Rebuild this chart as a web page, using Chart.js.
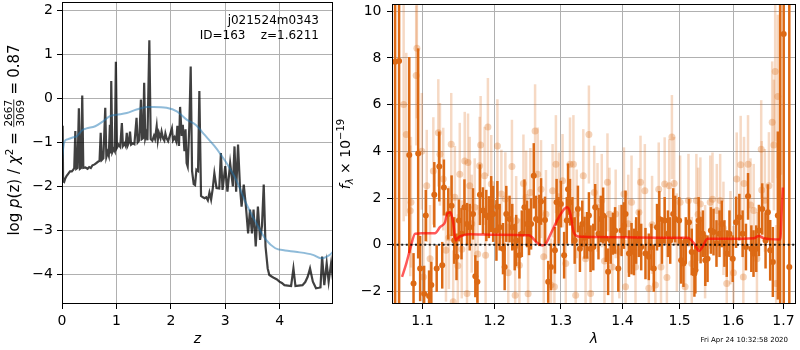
<!DOCTYPE html>
<html>
<head>
<meta charset="utf-8">
<script src="https://cdn.jsdelivr.net/npm/chart.js"></script>
<style>
  html, body { margin: 0; padding: 0; background: #fff; }
  #wrap { position: relative; width: 800px; height: 350px; overflow: hidden; }
  canvas { position: absolute; top: 0; }
  #pz { left: 0; }
  #spec { left: 334px; }
</style>
</head>
<body>
<div id="wrap">
  <canvas id="pz" width="340" height="350"></canvas>
  <canvas id="spec" width="466" height="350"></canvas>
</div>
<script>
// left panel: log p(z)
const zGrid = [0.000,0.012,0.020,0.040,0.060,0.086,0.110,0.147,0.180,0.208,
  0.225,0.245,0.262,0.285,0.310,0.330,0.350,0.372,0.392,0.43,
  0.47,0.50,0.53,0.56,0.60,0.63,0.66,0.69,0.711,0.73,
  0.76,0.795,0.815,0.84,0.86,0.88,0.895,0.905,0.925,0.95,
  0.97,0.99,1.01,1.04,1.07,1.10,1.12,1.15,1.17,1.19,
  1.21,1.23,1.25,1.27,1.30,1.33,1.37,1.39,1.42,1.45,
  1.47,1.49,1.51,1.53,1.55,1.57,1.605,1.63,1.66,1.69,
  1.71,1.74,1.76,1.78,1.81,1.83,1.86,1.88,1.90,1.92,
  1.95,1.98,2.02,2.04,2.07,2.10,2.12,2.15,2.17,2.20,
  2.22,2.25,2.27,2.29,2.31,2.34,2.365,2.39,2.42,2.445,
  2.47,2.50,2.524,2.555,2.59,2.62,2.65,2.68,2.71,2.74,
  2.77,2.80,2.84,2.89,2.92,2.95,3.00,3.04,3.09,3.14,
  3.17,3.20,3.235,3.27,3.30,3.34,3.38,3.42,3.455,3.49,
  3.52,3.56,3.60,3.64,3.675,3.707,3.74,3.78,3.81,3.86,
  3.90,3.95,3.995,4.04,4.087,4.15,4.21,4.253,4.29,4.35,
  4.42,4.47,4.515,4.558,4.61,4.668,4.72,4.75,4.78,4.82,
  4.864,4.90,4.945,4.98]
const logPz = [-0.62,-0.66,-1.88,-1.90,-1.82,-1.76,-1.72,-1.66,-1.66,-1.62,
  -1.58,-0.74,-1.60,-1.58,-0.22,-1.60,-1.58,0.07,-1.58,-1.57,
  -1.60,-1.56,-1.58,-1.52,-1.50,-1.47,-1.44,-1.42,-0.78,-1.40,
  -1.36,-0.21,-1.33,-1.22,-1.30,-0.60,-1.25,0.40,-1.22,-1.15,
  -1.20,0.84,-1.12,-1.05,-1.10,-0.56,-1.08,-1.02,-1.08,-0.78,
  -1.06,-1.00,-0.75,-1.05,-1.02,-1.04,-0.44,-1.00,-0.95,-0.02,
  -0.92,-0.90,0.36,-0.90,-0.80,-0.95,1.33,-0.92,-0.96,-0.85,
  -0.92,-0.63,-0.95,-0.78,-0.90,-0.75,-0.92,-0.96,-0.80,-0.90,
  -0.97,-0.85,-0.68,-0.95,-0.88,-0.98,-0.62,-1.08,-0.19,-0.85,
  -0.60,-1.20,-0.70,-1.47,-1.55,-0.62,0.73,-1.65,-1.95,-1.97,
  -1.62,-1.65,0.17,-2.22,-2.25,-2.27,-2.25,-2.32,-2.14,-2.30,
  -2.05,-1.70,-2.04,-2.05,-1.24,-2.08,-1.54,-2.12,-1.47,-2.00,
  -1.09,-2.12,-1.05,-2.00,-2.46,-1.96,-2.46,-3.07,-2.53,-3.07,
  -2.53,-3.37,-2.46,-3.22,-2.90,-1.96,-3.37,-3.87,-4.02,-4.06,
  -4.09,-4.12,-4.17,-4.20,-4.25,-4.26,-4.27,-3.87,-4.27,-4.26,
  -4.25,-4.18,-4.06,-3.87,-4.17,-4.32,-4.31,-4.30,-3.60,-4.25,
  -3.75,-4.17,-3.75,-4.13]
const zSmooth = [0.00,0.02,0.05,0.10,0.21,0.27,0.37,0.45,0.61,0.74,0.88,1.00,1.19,1.37,1.56,1.68,
  1.92,2.11,2.29,2.46,2.60,2.80,2.92,3.05,3.20,3.38,3.57,3.75,3.92,4.10,4.29,4.61,4.76,4.92,4.98]
const logPzSmooth = [-1.40,-1.15,-0.97,-0.93,-0.88,-0.86,-0.72,-0.68,-0.63,-0.53,-0.40,-0.37,-0.33,-0.25,-0.19,-0.19,
  -0.21,-0.29,-0.48,-0.60,-0.80,-1.08,-1.28,-1.52,-1.85,-2.38,-2.84,-3.22,-3.41,-3.46,-3.49,-3.56,-3.64,-3.56,-3.49]
const zTicks = [0, 1, 2, 3, 4]
const pzTicks = [-4, -3, -2, -1, 0, 1, 2]

// right panel: spectrum
const darkLam = [1.0644,1.0695,1.0827,1.0883,1.0944,1.0970,1.1023,1.1045,1.1089,1.1119,
  1.1159,1.1191,1.1226,1.1266,1.1289,1.1348,1.1394,1.1430,1.1462,1.1494,
  1.1531,1.1572,1.1608,1.1646,1.1692,1.1725,1.1754,1.1790,1.1833,1.1881,
  1.1918,1.1951,
  1.1980,1.2027,1.2041,1.2074,1.2123,1.2147,1.2171,1.2219,1.2259,1.2295,
  1.2317,1.2365,1.2401,1.2440,1.2480,1.2510,1.2540,1.2581,1.2616,1.2666,
  1.2692,1.2752,1.2802,1.2844,1.2906,1.2932,1.2963,1.2999,1.3050,1.3092,
  1.3112,1.3143,1.3181,1.3217,1.3269,1.3301,1.3339,1.3376,1.3419,1.3446,
  1.3473,1.3517,
  1.3548,1.3602,1.3640,1.3679,1.3722,1.3761,1.3804,1.3841,1.3877,1.3931,
  1.3986,1.4026,1.4053,1.4111,1.4155,1.4196,1.4235,1.4281,1.4321,1.4395,
  1.4453,1.4498,1.4540,1.4597,1.4637,1.4684,1.4732,1.4790,1.4831,1.4884,
  1.4920,1.4991,1.5027,1.5070,1.5112,1.5171,1.5221,1.5270,
  1.5288,1.5317,1.5348,1.5385,1.5427,1.5472,1.5514,1.5576,1.5626,1.5682,
  1.5739,1.5782,1.5833,1.5877,1.5929,1.5992,1.6057,1.6120,1.6184,1.6249,
  1.6290,1.6355,1.6398,1.6452,1.6505,1.6571,1.6638,1.6684,1.6731,1.6785,
  1.6886,1.6933,1.7006,1.7121]
const darkFlux = [7.84,7.87,3.84,-1.66,3.91,-1.02,-2.10,1.25,-2.20,-1.73,
  2.14,-1.02,3.35,-0.88,2.45,1.32,1.67,0.18,-0.52,1.04,
  0.47,1.60,0.89,0.75,1.32,-1.35,-1.59,2.14,1.46,1.25,
  1.18,1.74,
  1.32,0.61,1.63,0.75,-0.17,-0.95,1.32,1.10,0.75,-0.10,
  0.18,-0.45,0.47,1.60,0.89,0.55,0.89,2.95,1.10,1.04,
  1.85,1.06,-1.59,-0.95,-0.24,1.82,1.04,1.74,-0.45,1.04,
  2.38,1.82,1.04,0.18,1.53,-0.17,0.89,0.30,0.40,1.25,
  -0.17,-0.10,
  1.60,0.47,1.10,1.25,0.26,-1.16,0.18,0.47,0.61,-1.02,
  0.61,0.82,1.32,-0.38,-0.17,-0.31,0.18,0.47,-0.10,-0.38,
  -0.52,-0.10,-1.02,0.75,1.10,0.18,1.04,0.47,0.18,1.32,
  1.10,1.04,-0.67,-0.81,0.18,0.96,-0.31,-1.23,
  -1.09,-0.10,1.04,0.20,0.47,-0.67,-0.60,0.61,0.54,0.05,
  0.47,0.89,0.05,-0.38,0.47,-0.60,0.96,1.18,0.47,-0.10,
  2.07,-0.17,-0.38,-0.17,0.61,1.53,0.18,1.39,-0.24,-0.74,
  1.25,-5.0,9.02,-0.95]
const darkErr = [30,30,4.2,1.3,4.5,1.4,1.2,1.1,1.1,1.0,
  1.4,1.0,1.5,1.0,1.2,1.1,1.3,1.0,1.0,0.9,
  1.1,1.2,0.9,1.0,1.1,0.9,0.9,1.3,1.0,1.1,
  0.9,1.2,
  1.2,1.3,1.1,1.0,1.1,1.0,1.2,1.0,1.0,1.0,
  1.1,1.0,1.0,1.2,1.0,1.0,1.1,1.4,1.0,1.1,
  1.0,1.0,0.9,1.0,1.0,1.0,1.0,1.0,1.0,1.0,
  1.1,1.0,1.0,1.0,1.0,1.0,1.0,0.9,1.0,1.0,
  1.0,1.0,
  1.0,1.1,1.0,1.2,1.0,1.0,1.0,0.9,1.0,1.0,
  1.1,1.0,1.0,1.0,1.1,1.0,1.0,1.0,1.0,1.1,
  1.0,1.0,1.0,1.0,1.2,1.0,1.0,1.0,1.0,1.1,
  1.0,1.0,1.0,1.0,1.0,1.0,1.0,1.0,
  1.0,1.0,1.0,1.0,1.0,1.1,1.0,1.0,1.0,1.0,
  1.0,1.0,1.0,1.0,1.0,1.0,1.1,1.0,1.0,1.0,
  1.0,1.0,1.0,1.0,1.1,1.1,1.2,1.2,1.3,1.5,
  3.6,20,25,25]

const lightLam = [1.0754,1.0788,1.0840,1.0849,1.0918,1.0927,1.0992,1.1013,1.1058,1.1102,
  1.1146,1.1213,1.1235,1.1280,1.1317,1.1357,1.1389,1.1416,1.1439,1.1480,
  1.1507,1.1535,1.1576,1.1608,1.1622,1.1646,1.1674,1.1716,1.1758,1.1786,
  1.1800,1.1857,1.1871,1.1904,1.1952,
  1.2041,1.2099,1.2157,1.2200,1.2254,1.2302,1.2317,1.2365,1.2425,1.2465,
  1.2495,1.2529,1.2601,1.2641,1.2692,1.2733,1.2767,1.2844,1.2870,1.2898,
  1.2921,1.2968,1.3025,1.3076,1.3143,1.3197,1.3233,1.3249,1.3355,1.3392,
  1.3446,1.3473,
  1.3532,1.3586,1.3656,1.3701,1.3750,1.3783,1.3832,1.3887,1.3948,1.4026,
  1.4053,1.4099,1.4155,1.4223,1.4281,1.4309,1.4384,1.4453,1.4510,1.4568,
  1.4627,1.4667,1.4732,1.4772,1.4813,1.4861,1.4902,1.4950,1.5009,1.5100,
  1.5161,1.5221,
  1.5306,1.5339,1.5380,1.5468,1.5564,1.5607,1.5688,1.5752,1.5814,1.5877,
  1.5948,1.6006,1.6069,1.6146,1.6198,1.6211,1.6290,1.6339,1.6402,1.6466,
  1.6551,1.6561,1.6624,1.6705,1.6772,1.6806,1.6832,1.6852,1.6886,1.6950]
const lightFlux = [6.0,4.72,1.45,1.82,7.25,8.41,4.00,-1.38,2.52,-0.60,
  3.16,4.79,3.87,2.81,-0.24,0.30,4.30,-2.44,2.03,-0.90,
  3.02,-0.20,3.59,-2.09,3.52,2.52,0.90,1.60,-0.40,3.38,
  4.27,2.95,-0.45,5.04,2.60,
  4.23,2.17,1.96,-1.20,3.35,-2.16,1.04,-0.88,2.62,2.03,
  -2.10,2.24,4.87,3.02,2.38,-0.52,1.30,-1.73,2.31,-1.80,
  3.45,2.05,2.74,-0.80,3.45,3.45,-2.16,1.32,2.95,-0.60,
  4.72,-2.09,
  2.24,1.60,1.89,-0.70,2.67,1.30,-0.95,1.32,-0.30,2.17,
  -1.80,0.90,1.82,-0.95,1.39,2.67,2.31,-1.87,0.85,-1.73,
  2.38,-0.95,2.60,-1.40,2.52,4.61,2.62,0.10,1.82,-1.80,
  1.89,-0.81,
  1.89,1.30,1.74,-0.30,1.82,1.95,1.46,1.89,0.70,-1.66,
  0.30,-1.20,2.81,3.42,-1.38,2.62,3.45,1.70,1.46,-0.60,
  4.09,2.34,1.90,2.52,5.25,4.27,7.42,-1.66,6.35,11.0]
const lightErr = [5.0,3.5,2.8,2.8,3.0,3.0,2.5,2.5,2.4,2.3,
  2.3,2.3,2.2,2.2,2.2,2.2,2.2,2.2,2.2,2.2,
  2.2,2.1,2.1,2.1,2.1,2.1,2.1,2.1,2.1,2.1,
  2.1,2.1,2.1,2.1,2.1,
  2.0,1.9,2.0,2.1,2.0,2.0,1.9,2.0,2.1,2.0,
  2.0,1.9,2.0,2.0,2.1,2.0,1.9,2.0,2.0,2.0,
  2.1,1.9,2.0,2.0,2.0,2.1,2.0,1.9,2.0,2.0,
  2.1,2.0,
  2.0,1.9,2.0,2.0,2.1,2.0,2.0,1.9,2.0,2.0,
  2.0,2.1,2.0,2.0,1.9,2.0,2.0,2.0,2.1,2.0,
  2.0,1.9,2.0,2.0,2.0,1.8,2.0,2.1,2.0,2.0,
  2.0,2.0,
  2.0,2.0,2.0,2.0,2.0,2.0,2.0,2.0,2.0,2.0,
  2.0,2.0,2.0,2.1,2.0,2.0,2.1,2.0,2.0,2.0,
  2.1,2.1,2.2,2.3,2.6,2.8,3.0,2.5,3.5,8.0]

const modelLam = [1.0733,1.0788,1.0840,1.0904,1.0992,1.1168,1.1235,1.1302,1.1333,1.1380,
  1.1415,1.1452,1.1483,1.1552,1.1646,1.2022,1.2510,1.2561,1.2636,1.2712,
  1.2764,1.2865,1.2968,1.3096,1.3150,1.3201,1.3280,1.3548,1.4671,1.5148,
  1.5266,1.5358,1.5418,1.5514,1.5890,1.6404,1.6502,1.6601,1.6934,1.6968,1.6988]
const modelFlux = [-1.38,-0.81,-0.17,0.47,0.49,0.49,0.75,0.95,1.32,1.39,
  0.96,0.18,0.30,0.40,0.45,0.43,0.40,0.30,0.07,-0.03,
  0.04,0.61,1.18,1.60,1.32,0.54,0.35,0.33,0.30,0.30,
  0.05,-0.27,-0.10,0.25,0.25,0.28,0.37,0.28,0.22,1.60,2.45]
const lamRange = [1.0604, 1.726]
const lamTicks = [1.1, 1.2, 1.3, 1.4, 1.5, 1.6, 1.7]
const fluxTicks = [-2, 0, 2, 4, 6, 8, 10]

const FONT = "'DejaVu Sans', sans-serif"
const GRID = '#b0b0b0'
const ORANGE = 'rgb(220,105,20)'

Chart.defaults.font.family = FONT
Chart.defaults.color = 'black'

const minus = v => v < 0 ? '\u2212' + Math.abs(v) : String(v)
const pts = (xs, ys) => xs.map((x, i) => ({ x: x, y: ys[i] }))

// no extra room for labels hanging over the plot edges
const noPad = s => { s.paddingTop = 0; s.paddingBottom = 0; s.paddingLeft = 0; s.paddingRight = 0 }

function axis(opts) {
  return Object.assign({
    grid: { color: GRID, lineWidth: 1, tickLength: 5, tickColor: 'black', tickWidth: 1 },
    border: { display: false },
    ticks: { color: 'black', font: { size: 14 }, autoSkip: false, maxRotation: 0 }
  }, opts)
}

// box around the plot area, matplotlib style
const frame = {
  id: 'frame',
  afterDatasetsDraw(chart) {
    const a = chart.chartArea, ctx = chart.ctx
    ctx.save()
    ctx.strokeStyle = 'black'
    ctx.lineWidth = 1
    ctx.strokeRect(Math.round(a.left) + 0.5, Math.round(a.top) + 0.5,
      Math.round(a.right - a.left) - 1, Math.round(a.bottom - a.top) - 1)
    ctx.restore()
  }
}

// vertical error bars drawn right before their own dataset
const errorBars = {
  id: 'errorBars',
  beforeDatasetDraw(chart, args) {
    const ds = chart.data.datasets[args.index]
    if (!ds.errs) return
    const xs = chart.scales.x, ys = chart.scales.y, a = chart.chartArea, ctx = chart.ctx
    ctx.save()
    ctx.beginPath()
    ctx.rect(a.left, a.top, a.right - a.left, a.bottom - a.top)
    ctx.clip()
    ctx.strokeStyle = ds.errColor
    ctx.lineWidth = ds.errWidth
    ds.data.forEach((p, i) => {
      const px = xs.getPixelForValue(p.x)
      ctx.beginPath()
      ctx.moveTo(px, ys.getPixelForValue(p.y - ds.errs[i]))
      ctx.lineTo(px, ys.getPixelForValue(p.y + ds.errs[i]))
      ctx.stroke()
    })
    ctx.restore()
  }
}

// rotated label made of pieces (italic, sub/superscript, fraction)
function richLabel(ctx, parts, bx, cy) {
  let total = 0
  parts.forEach(p => {
    ctx.font = p.font
    p.w = p.num ? Math.max(ctx.measureText(p.num).width, ctx.measureText(p.den).width) + 3
                : ctx.measureText(p.t).width + (p.pad || 0) * 2
    total += p.w
  })
  ctx.save()
  ctx.translate(bx, cy)
  ctx.rotate(-Math.PI / 2)
  ctx.fillStyle = 'black'
  ctx.textBaseline = 'alphabetic'
  let x = -total / 2
  parts.forEach(p => {
    ctx.font = p.font
    if (p.num) {
      ctx.textAlign = 'center'
      ctx.fillText(p.num, x + p.w / 2, -7)
      ctx.fillText(p.den, x + p.w / 2, 5)
      ctx.fillRect(x + 1, -5.6, p.w - 2, 0.8)
    } else {
      ctx.textAlign = 'left'
      ctx.fillText(p.t, x + (p.pad || 0), p.dy || 0)
    }
    x += p.w
  })
  ctx.restore()
}

const n15 = '15px ' + FONT, i15 = 'italic 15px ' + FONT, n10 = '10.5px ' + FONT
const n14 = '14px ' + FONT, i14 = 'italic 14px ' + FONT, i10 = 'italic 10px ' + FONT

const pzText = {
  id: 'pzText',
  afterDraw(chart) {
    const ctx = chart.ctx
    ctx.save()
    ctx.fillStyle = 'black'
    ctx.font = '12px ' + FONT
    ctx.textAlign = 'right'
    ctx.textBaseline = 'alphabetic'
    ctx.fillText('j021524m0343', 319, 24)
    ctx.fillText('ID=163    z=1.6211', 319, 39)
    ctx.restore()
    richLabel(ctx, [
      { t: 'log ', font: n15 }, { t: 'p', font: i15 }, { t: '(z) / ', font: n15 },
      { t: '\u03c7', font: i15 }, { t: '2', font: n10, dy: -6.5 }, { t: '=', font: n15, pad: 4 },
      { num: '2667', den: '3069', font: n10 }, { t: '=', font: n15, pad: 4 }, { t: '0.87', font: n15 }
    ], 19, 140)
  }
}

const specText = {
  id: 'specText',
  afterDraw(chart) {
    const ctx = chart.ctx
    richLabel(ctx, [
      { t: 'f', font: i14 }, { t: '\u03bb', font: i10, dy: 3 }, { t: ' \u00d7 10', font: n14 },
      { t: '\u221219', font: '10px ' + FONT, dy: -6 }
    ], 16, 154)
    ctx.save()
    ctx.fillStyle = 'black'
    ctx.font = '7px ' + FONT
    ctx.textAlign = 'right'
    ctx.fillText('Fri Apr 24 10:32:58 2020', 454, 341.5)
    ctx.restore()
  }
}

new Chart(document.getElementById('pz'), {
  type: 'scatter',
  data: {
    datasets: [
      { data: pts(zSmooth, logPzSmooth), showLine: true, borderColor: 'rgba(31,119,180,0.5)',
        borderWidth: 2, pointRadius: 0, cubicInterpolationMode: 'monotone', order: 0 },
      { data: pts(zGrid, logPz), showLine: true, borderColor: 'rgba(0,0,0,0.75)',
        borderWidth: 2.2, pointRadius: 0, tension: 0, order: 1 }
    ]
  },
  options: {
    responsive: false, animation: false, devicePixelRatio: 1,
    layout: { padding: { top: 2, right: 7, left: 0, bottom: 0 } },
    plugins: { legend: { display: false }, tooltip: { enabled: false } },
    scales: {
      x: axis({
        type: 'linear', min: 0, max: 4.98,
        afterBuildTicks: s => { s.ticks = zTicks.map(v => ({ value: v })) },
        afterFit: s => { s.height = 46; noPad(s) },
        ticks: { color: 'black', font: { size: 14 }, padding: 4, maxRotation: 0, autoSkip: false, callback: v => minus(v) },
        title: { display: true, text: 'z', color: 'black', font: { size: 14, style: 'italic' }, padding: { top: 0, bottom: 2 } }
      }),
      y: axis({
        type: 'linear', min: -4.68, max: 2.2,
        afterBuildTicks: s => { s.ticks = pzTicks.map(v => ({ value: v })) },
        afterFit: s => { s.width = 62; noPad(s) },
        ticks: { color: 'black', font: { size: 14 }, padding: 4, autoSkip: false, callback: v => minus(v) }
      })
    }
  },
  plugins: [frame, pzText]
})

new Chart(document.getElementById('spec'), {
  type: 'scatter',
  data: {
    datasets: [
      { data: pts(lamRange, [0, 0]), showLine: true, borderColor: 'rgba(0,0,0,0.85)', borderWidth: 2,
        borderDash: [2, 2.6], pointRadius: 0, order: 0 },
      { data: pts(modelLam, modelFlux), showLine: true, borderColor: 'rgba(255,0,0,0.65)', borderWidth: 2.5,
        pointRadius: 0, cubicInterpolationMode: 'monotone', order: 1 },
      { data: pts(darkLam, darkFlux), pointRadius: 3, pointBackgroundColor: ORANGE, pointBorderWidth: 0,
        errs: darkErr, errColor: ORANGE, errWidth: 2.5, order: 2 },
      { data: pts(lightLam, lightFlux), pointRadius: 3.5, pointBackgroundColor: 'rgba(220,105,20,0.3)',
        pointBorderWidth: 0, errs: lightErr, errColor: 'rgba(220,105,20,0.25)', errWidth: 2.5, order: 3 }
    ]
  },
  options: {
    responsive: false, animation: false, devicePixelRatio: 1,
    layout: { padding: { top: 2, right: 1, left: 0, bottom: 0 } },
    plugins: { legend: { display: false }, tooltip: { enabled: false } },
    scales: {
      x: axis({
        type: 'logarithmic', min: lamRange[0], max: lamRange[1],
        afterBuildTicks: s => { s.ticks = lamTicks.map(v => ({ value: v })) },
        afterFit: s => { s.height = 46; noPad(s) },
        ticks: { color: 'black', font: { size: 14 }, padding: 4, maxRotation: 0, autoSkip: false, callback: v => v.toFixed(1) },
        title: { display: true, text: '\u03bb', color: 'black', font: { size: 14, style: 'italic' }, padding: { top: 0, bottom: 2 } }
      }),
      y: axis({
        type: 'linear', min: -2.54, max: 10.31,
        afterBuildTicks: s => { s.ticks = fluxTicks.map(v => ({ value: v })) },
        afterFit: s => { s.width = 58; noPad(s) },
        ticks: { color: 'black', font: { size: 14 }, padding: 5.5, autoSkip: false, callback: v => minus(v) }
      })
    }
  },
  plugins: [frame, errorBars, specText]
})
</script>
</body>
</html>
